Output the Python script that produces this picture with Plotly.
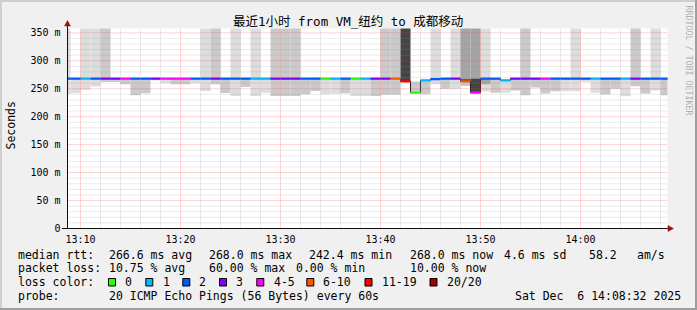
import plotly.graph_objects as go
from datetime import datetime, timedelta

# ---------------- data ----------------
t_first = datetime(2025, 12, 6, 13, 8)           # first (partial) minute shown
n_steps = 61                                     # 13:08 .. 14:08, one step per minute
step_times = [t_first + timedelta(minutes=i) for i in range(n_steps)]

median_ms = [268, 268, 268, 268, 268, 268, 268, 268, 268, 268,
             268, 268, 268, 268, 268, 268, 268, 268, 268, 268,
             268, 268, 268, 268, 268, 268, 268, 268, 268, 268,
             268, 268, 268, 268, 263, 243, 265, 267, 268, 268,
             263, 243, 268, 268, 265, 268, 268, 268, 268, 268,
             268, 268, 268, 268, 268, 268, 268, 268, 268, 268, 268]

loss_pings = [2, 2, 1, 2, 3, 3, 5, 2, 2, 3,
              4, 4, 5, 2, 2, 3, 2, 2, 2, 1,
              1, 3, 3, 3, 2, 2, 0, 1, 2, 0,
              1, 3, 3, 6, 12, 0, 1, 2, 2, 3,
              6, 5, 2, 2, 1, 3, 3, 3, 5, 2,
              2, 2, 2, 1, 2, 2, 1, 3, 2, 2, 2]

# lowest ping of each step (None: no smoke below the median)
smoke_min_ms = [240, 242, 248, 254, 262, 262, 258, 238.5, 242, 266,
                260, 258, 258, 260, 246, 258, 242.5, 237, 253, 237,
                243, 237, 237, 237, 240, 246, 240, 241, 242, 237,
                237, 237, 239, 239, None, None, 240, 258, 250, 250,
                255, None, 245, 243, 243, 247, 238.5, 252, 241.5, 245.6,
                245.6, 245.6, 262, 242.7, 239.7, 250, 236.7, 254.5, 241.5, 246.8, 238.5]
# pings in the lower smoke band
smoke_min_pings = [1, 1, 1, 1, 2, 2, 2, 2, 2, 1,
                   1, 2, 2, 1, 1, 2, 2, 1, 2, 1,
                   1, 2, 2, 2, 2, 2, 1, 1, 2, 1,
                   1, 2, 2, 2, 0, 0, 2, 1, 2, 1,
                   2, 0, 1, 2, 1, 2, 2, 2, 2, 2,
                   1, 1, 1, 1, 2, 2, 1, 2, 2, 1, 2]

# highest ping of each step (400: above the top of the graph, None: no smoke above)
smoke_max_ms = [400, None, 400, 400, 400, None, None, None, None, None,
                None, None, None, None, 400, 400, None, 400, None, 400,
                None, 400, 400, 400, None, None, None, None, None, None,
                None, None, 400, 400, 400, 263, None, 400, None, 400,
                400, 400, 400, None, None, None, 400, None, None, None,
                None, 400, None, None, None, None, None, 400, None, 400, None]
# pings in the upper smoke band
smoke_max_pings = [1, 0, 1, 1, 2, 0, 0, 0, 0, 0,
                   0, 0, 0, 0, 1, 2, 0, 1, 0, 1,
                   0, 2, 2, 2, 0, 0, 0, 0, 0, 0,
                   0, 0, 2, 2, 9, 2, 0, 1, 0, 1,
                   4, 4, 1, 0, 0, 0, 2, 0, 0, 0,
                   0, 1, 0, 0, 0, 0, 0, 2, 0, 1, 0]

# dense core of pings (only a few steps)
core_lo_ms = {"13:48": 263, "13:49": 243, "13:50": 258}
core_hi_ms = {"13:48": 267, "13:49": 268, "13:50": 268}
core_pings = {"13:48": 9, "13:49": 9, "13:50": 4}

loss_bin_labels = ["0", "1", "2", "3", "4-5", "6-10", "11-19", "20/20"]
loss_bin_upper = [0, 1, 2, 3, 5, 10, 19, 20]

y_tick_vals = [0, 50, 100, 150, 200, 250, 300, 350]
y_tick_text = ["0", "50 m", "100 m", "150 m", "200 m", "250 m", "300 m", "350 m"]

rtt_stats = [("266.6", "avg"), ("268.0", "max"), ("242.4", "min"), ("268.0", "now")]
rtt_sd = "4.6"
rtt_ams = "58.2"
loss_stats = [("10.75", "avg"), ("60.00", "max"), ("0.00", "min"), ("10.00", "now")]
probe_text = "20 ICMP Echo Pings (56 Bytes) every 60s"
stamp_text = "Sat Dec\u00a0 6 14:08:32 2025"
title_text = "最近1小时 from VM_纽约 to 成都移动"

# ---------------- styling ----------------
W, H = 697, 310
loss_colors = ["#26ff00", "#00b8ff", "#0059ff", "#7e00ff", "#ff00ff", "#ff5500", "#ff0000", "#a10000"]
MONO = "DejaVu Sans Mono, Noto Sans CJK SC, monospace"
range_start = datetime(2025, 12, 6, 13, 8, 42)
range_end = range_start + timedelta(minutes=60)
y_top = 357.7

def px(x):
    return x / W

def py(y):
    return 1 - y / H

def gray(n):
    g = max(0, min(255, 240 - 19 * n))
    return f"rgb({g},{g},{g})"

def loss_bin(l):
    for i, u in enumerate(loss_bin_upper):
        if l <= u:
            return i
    return len(loss_bin_upper) - 1

step = timedelta(minutes=1)
fig = go.Figure()

# upper smoke
up_base, up_h, up_col = [], [], []
for m, hi, n in zip(median_ms, smoke_max_ms, smoke_max_pings):
    if hi is None:
        up_base.append(None); up_h.append(None); up_col.append("white")
    else:
        up_base.append(m); up_h.append(hi - m); up_col.append(gray(n))
fig.add_trace(go.Bar(x=step_times, y=up_h, base=up_base, width=60000, offset=0,
                     marker=dict(color=up_col, line=dict(width=0)), hoverinfo="skip"))

# lower smoke
lo_base, lo_h, lo_col = [], [], []
for m, lo, n in zip(median_ms, smoke_min_ms, smoke_min_pings):
    if lo is None:
        lo_base.append(None); lo_h.append(None); lo_col.append("white")
    else:
        lo_base.append(lo); lo_h.append(m - lo); lo_col.append(gray(n))
fig.add_trace(go.Bar(x=step_times, y=lo_h, base=lo_base, width=60000, offset=0,
                     marker=dict(color=lo_col, line=dict(width=0)), hoverinfo="skip"))

# dense core
cx, cb, ch, cc = [], [], [], []
for t in step_times:
    k = t.strftime("%H:%M")
    if k in core_lo_ms:
        cx.append(t); cb.append(core_lo_ms[k]); ch.append(core_hi_ms[k] - core_lo_ms[k]); cc.append(gray(core_pings[k]))
fig.add_trace(go.Bar(x=cx, y=ch, base=cb, width=60000, offset=0,
                     marker=dict(color=cc, line=dict(width=0)), hoverinfo="skip"))

# median step line
fig.add_trace(go.Scatter(x=step_times + [step_times[-1] + step], y=median_ms + [median_ms[-1]],
                         mode="lines", line=dict(shape="hv", color="#202020", width=1), hoverinfo="skip"))

# loss-coloured median segments
for b, col in enumerate(loss_colors):
    xs, ys = [], []
    for t, m, l in zip(step_times, median_ms, loss_pings):
        if loss_bin(l) == b:
            xs += [t, t + step, None]
            ys += [m, m, None]
    if xs:
        fig.add_trace(go.Scatter(x=xs, y=ys, mode="lines", line=dict(color=col, width=2.2),
                                 hoverinfo="skip"))

shapes = []
# grid (drawn above the smoke, like rrdtool)
MINOR = "rgba(150,150,150,0.40)"
MAJOR = "rgba(255,60,60,0.45)"
t = datetime(2025, 12, 6, 13, 10)
while t < range_end:
    major = t.minute % 10 == 0
    shapes.append(dict(type="line", xref="x", yref="y", x0=t, x1=t, y0=0, y1=y_top,
                       line=dict(color=MAJOR if major else MINOR, width=1, dash="1px,1px")))
    t += timedelta(minutes=2)
for v in range(10, 351, 10):
    major = v % 50 == 0
    shapes.append(dict(type="line", xref="x domain", yref="y", x0=0, x1=1, y0=v, y1=v,
                       line=dict(color=MAJOR if major else MINOR, width=1, dash="1px,1px")))

# axes lines and arrows
shapes.append(dict(type="line", xref="paper", yref="paper", x0=px(67.5), x1=px(67.5), y0=py(228.5), y1=py(24),
                   line=dict(color="#101010", width=1)))
shapes.append(dict(type="line", xref="paper", yref="paper", x0=px(62), x1=px(669), y0=py(228.5), y1=py(228.5),
                   line=dict(color="#101010", width=1)))
ARROW = "#a01010"
shapes.append(dict(type="path", xref="paper", yref="paper",
                   path=f"M {px(64.5)},{py(26)} L {px(70.5)},{py(26)} L {px(67.5)},{py(20.5)} Z",
                   fillcolor=ARROW, line=dict(color=ARROW, width=0.5)))
shapes.append(dict(type="path", xref="paper", yref="paper",
                   path=f"M {px(668)},{py(225.5)} L {px(668)},{py(231.5)} L {px(673.5)},{py(228.5)} Z",
                   fillcolor=ARROW, line=dict(color=ARROW, width=0.5)))

# frame
shapes.append(dict(type="rect", xref="paper", yref="paper", x0=0, x1=1, y0=py(2), y1=1,
                   fillcolor="#cfcfcf", line=dict(width=0)))
shapes.append(dict(type="rect", xref="paper", yref="paper", x0=0, x1=px(2), y0=0, y1=1,
                   fillcolor="#cfcfcf", line=dict(width=0)))
shapes.append(dict(type="rect", xref="paper", yref="paper", x0=px(695), x1=1, y0=0, y1=1,
                   fillcolor="#9e9e9e", line=dict(width=0)))
shapes.append(dict(type="rect", xref="paper", yref="paper", x0=0, x1=1, y0=0, y1=py(308),
                   fillcolor="#9e9e9e", line=dict(width=0)))

annotations = []

def text(x, y, s, size=11.5, color="black", anchor="left", angle=0):
    annotations.append(dict(x=px(x), y=py(y), xref="paper", yref="paper", text=s, showarrow=False,
                            xanchor=anchor, yanchor="middle", textangle=angle,
                            font=dict(family=MONO, size=size, color=color)))

text(347.8, 21.5, title_text, size=12.5, anchor="center")
text(10.5, 126, "Seconds", size=11.5, anchor="center", angle=-90)
text(688.5, 60, "RRDTOOL / TOBI OETIKER", size=8.3, color="#b0b0b0", anchor="center", angle=90)

# legend line 1
y1 = 254.7
text(16, y1, "median rtt:")
for (val, what), x in zip(rtt_stats, [107.3, 207.3, 307.3, 407.7]):
    text(x, y1, f"{val} ms {what}")
text(502.3, y1, f"{rtt_sd} ms sd")
text(586.7, y1, rtt_ams)
text(635, y1, "am/s")
# legend line 2
y2 = 268.3
text(16, y2, "packet loss:")
for (val, what), x in zip(loss_stats, [107.3, 207.3, 294, 407.7]):
    text(x, y2, f"{val} % {what}")
# legend line 3
y3 = 282.3
text(16, y3, "loss color:")
box_x = [108.5, 145.8, 182.8, 219.5, 256.8, 306.8, 365.0, 430.0]
lab_x = [123.3, 160.7, 197.3, 234.3, 271.7, 320.7, 380.0, 445.0]
for lab, col, bx, lx in zip(loss_bin_labels, loss_colors, box_x, lab_x):
    shapes.append(dict(type="rect", xref="paper", yref="paper", x0=px(bx), x1=px(bx + 7),
                       y0=py(286), y1=py(278.5), fillcolor=col, line=dict(color="black", width=1)))
    text(lx, y3, lab)
# legend line 4
y4 = 295.7
text(16, y4, "probe:")
text(107.3, y4, probe_text)
text(513.3, y4, stamp_text)

fig.update_layout(
    width=W, height=H, autosize=False,
    margin=dict(l=0, r=0, t=0, b=0, pad=0, autoexpand=False),
    paper_bgcolor="#f0f0f0", plot_bgcolor="#ffffff",
    barmode="overlay", showlegend=False,
    shapes=shapes, annotations=annotations,
    xaxis=dict(type="date", domain=[px(67.5), px(667.5)], range=[range_start, range_end],
               tick0="2025-12-06 13:10:00", dtick=600000, tickformat="%H:%M",
               showgrid=False, zeroline=False, showline=False, ticks="", automargin=False,
               ticklabelstandoff=3,
               tickfont=dict(family=MONO, size=10, color="black")),
    yaxis=dict(domain=[py(228.5), py(28.5)], range=[0, y_top],
               tickvals=y_tick_vals, ticktext=y_tick_text,
               showgrid=False, zeroline=False, showline=False, ticks="", automargin=False,
               ticklabelstandoff=6,
               tickfont=dict(family=MONO, size=10, color="black")),
)

fig.write_html("out.html", config={"responsive": False})
